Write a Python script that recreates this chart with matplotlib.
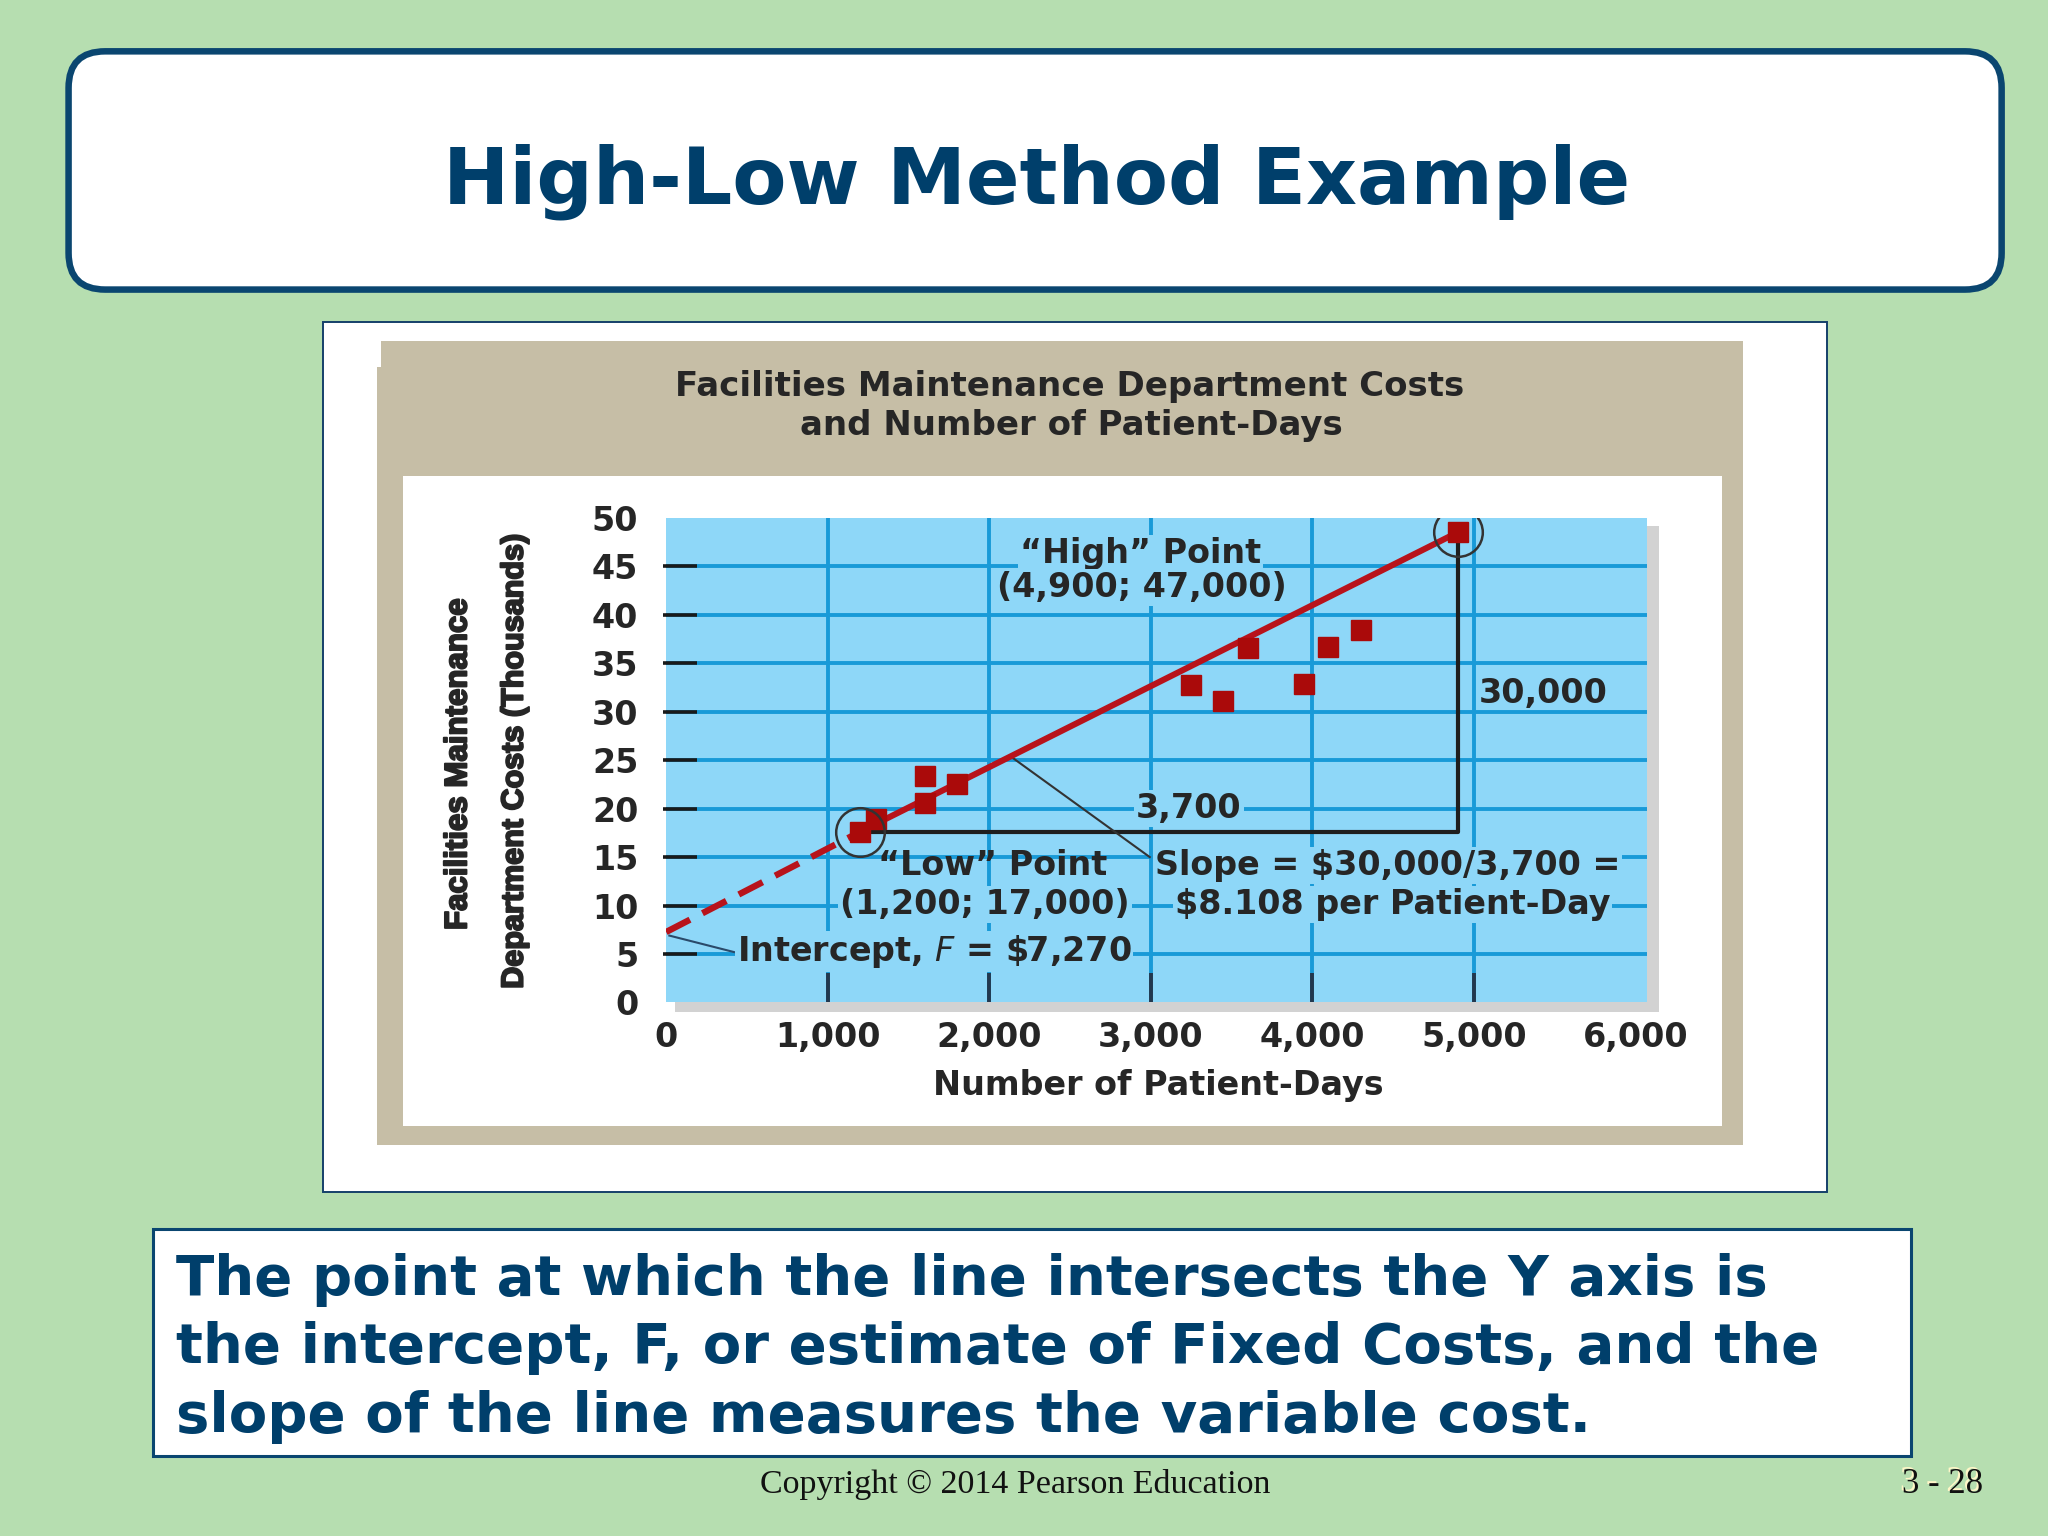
"""High-Low method slide: facilities maintenance costs vs patient-days."""

import matplotlib
matplotlib.use("Agg")
import matplotlib.pyplot as plt
import matplotlib.patheffects as pe
from matplotlib.patches import FancyBboxPatch, Rectangle
from matplotlib.ticker import FuncFormatter

# ── Data ─────────────────────────────────────────────────────────────────────
patient_days = [1200, 1300, 1600, 1600, 1800, 3250, 3450, 3600, 3950, 4100, 4300, 4900]
costs_k = [17.6, 18.9, 23.4, 20.6, 22.5, 32.8, 31.1, 36.6, 32.9, 36.7, 38.4, 48.5]

high_low_x = [1200, 4900]
high_low_y = [17.6, 48.5]

intercept_x = [0, 1200]
intercept_y = [7.27, 17.6]

x_ticks = [0, 1000, 2000, 3000, 4000, 5000, 6000]
y_ticks = [0, 5, 10, 15, 20, 25, 30, 35, 40, 45, 50]
grid_x = [1000, 2000, 3000, 4000, 5000]
grid_y = [5, 10, 15, 20, 25, 30, 35, 40, 45]

# ── Style ────────────────────────────────────────────────────────────────────
GREEN = "#B6DEB0"
NAVY = "#0A4670"
NAVY_TEXT = "#003F6B"
TAN = "#C6BEA6"
SKY = "#8ED7F8"
GRID = "#189AD8"
RED = "#B8131B"
SQUARE = "#AA0A0A"
INK = "#262626"

W, H = 1568, 1176  # layout units (reference preview size)

fig = plt.figure(figsize=(20.48, 15.36), dpi=100, facecolor=GREEN)

# background layer in layout units
bg = fig.add_axes([0, 0, 1, 1])
bg.set_xlim(0, W)
bg.set_ylim(H, 0)
bg.axis("off")


def rect(x0, y0, x1, y1, **kw):
    bg.add_patch(Rectangle((x0, y0), x1 - x0, y1 - y0, **kw))


# title box
bg.add_patch(FancyBboxPatch((52.5, 39.3), 1480, 182.4,
                            boxstyle="round,pad=0,rounding_size=28",
                            facecolor="white", edgecolor=NAVY, lw=4.7))
bg.text(794, 155.7, "High-Low Method Example", ha="center", va="baseline",
        fontsize=57, fontweight="bold", color=NAVY_TEXT, family="DejaVu Sans")

# chart frame
rect(247, 246.5, 1399, 913, facecolor="white", edgecolor="#15406A", lw=1.4)
rect(291.5, 261, 1334.2, 876.6, facecolor=TAN, edgecolor="none")
rect(288.4, 280.7, 1334.2, 876.6, facecolor=TAN, edgecolor="none")
rect(308.8, 364.4, 1318.2, 861.9, facecolor="white", edgecolor="none")
rect(517, 403, 1270.4, 774.6, facecolor="#D2D2D2", edgecolor="none")

bg.text(819, 296, "Facilities Maintenance Department Costs", ha="center",
        va="center", fontsize=24.5, fontweight="bold", color=INK)
bg.text(820, 326, "and Number of Patient-Days", ha="center", va="center",
        fontsize=24.5, fontweight="bold", color=INK)

# y-axis title: narrow heavy face, thickened with a stroke
narrow = ["Liberation Sans", "DejaVu Sans"]
heavy = [pe.withStroke(linewidth=1.4, foreground=INK)]
bg.text(351, 585, "Facilities Maintenance", rotation=90, ha="center",
        va="center", fontsize=22.5, fontweight="bold", color=INK,
        family=narrow, path_effects=heavy)
bg.text(394, 583, "Department Costs (Thousands)", rotation=90, ha="center",
        va="center", fontsize=22, fontweight="bold", color=INK,
        family=narrow, path_effects=heavy)
bg.text(886.6, 838.6, "Number of Patient-Days", ha="center", va="baseline",
        fontsize=24, fontweight="bold", color=INK)

# bottom text box
rect(117.5, 940.7, 1463, 1114.7, facecolor="white", edgecolor=NAVY, lw=2.2)
body = ["The point at which the line intersects the Y axis is",
        "the intercept, F, or estimate of Fixed Costs, and the",
        "slope of the line measures the variable cost."]
for i, line in enumerate(body):
    bg.text(135, 991.5 + i * 52.3, line, ha="left", va="baseline",
            fontsize=40.5, fontweight="bold", color=NAVY_TEXT)

bg.text(777, 1143, "Copyright \u00a9 2014 Pearson Education", ha="center",
        va="baseline", fontsize=24.5, color="#111111", family="Liberation Serif")
bg.text(1485.5, 1141.5, "3 - 28", ha="center", va="baseline", fontsize=25,
        color="#FFF6C8", family="Liberation Serif")
bg.text(1487, 1143, "3 - 28", ha="center", va="baseline", fontsize=25,
        color="#111111", family="Liberation Serif")

# ── Plot area ────────────────────────────────────────────────────────────────
left, right, top, bottom = 510, 1260.7, 396.5, 767.5
ax = fig.add_axes([left / W, 1 - bottom / H, (right - left) / W, (bottom - top) / H])
ax.set_facecolor(SKY)
ax.set_xlim(0, 6070)
ax.set_ylim(0, 50)
for s in ax.spines.values():
    s.set_visible(False)

ax.set_xticks(x_ticks)
ax.set_yticks(y_ticks)
ax.xaxis.set_major_formatter(FuncFormatter(lambda v, p: f"{int(v):,}"))
ax.tick_params(length=0, labelsize=24, labelcolor=INK)
ax.tick_params(axis="y", pad=20)
ax.tick_params(axis="x", pad=13)
for lab in ax.get_xticklabels() + ax.get_yticklabels():
    lab.set_fontweight("bold")

# grid
ax.hlines(grid_y, 0, 6070, color=GRID, lw=2.8, zorder=1)
ax.vlines(grid_x, 0, 50, color=GRID, lw=2.8, zorder=1)
ax.hlines(grid_y, -20, 190, color="#1a1a1a", lw=2.6, zorder=2, clip_on=False)
ax.vlines(grid_x, 0, 3.0, color="#23384e", lw=2.8, zorder=2)

# line through the low and high points, dashed back to the intercept
ax.plot(intercept_x, intercept_y, color=RED, lw=4.6, dashes=[4.2, 2.2],
        solid_capstyle="butt", zorder=4)
ax.plot(high_low_x, high_low_y, color=RED, lw=4.4, zorder=4)

# right-angle triangle
ax.plot([high_low_x[0], high_low_x[1], high_low_x[1]],
        [high_low_y[0], high_low_y[0], high_low_y[1]],
        color="#1e1e1e", lw=3.0, zorder=3)

ax.plot(patient_days, costs_k, "s", color=SQUARE, markersize=14, zorder=5)
ax.plot(high_low_x, high_low_y, "o", markerfacecolor="none",
        markeredgecolor="#333333", markeredgewidth=1.8, markersize=35, zorder=6)

# leader lines
ax.plot([2140, 2994], [25.3, 15.0], color="#333333", lw=1.5, zorder=3)
ax.plot([20, 420], [6.9, 5.2], color="#2a4a6a", lw=1.5, zorder=3)

box = dict(facecolor=SKY, edgecolor="none", pad=1.5)
tkw = dict(fontsize=24, fontweight="bold", color=INK, zorder=7)
ax.text(2937, 46.3, "\u201cHigh\u201d Point", ha="center", va="center", bbox=box, **tkw)
ax.text(2945, 42.8, "(4,900; 47,000)", ha="center", va="center", bbox=box, **tkw)
ax.text(5032, 31.9, "30,000", ha="left", va="center", **tkw)
ax.text(3236, 20.0, "3,700", ha="center", va="center", bbox=box, **tkw)
ax.text(2023, 14.1, "\u201cLow\u201d Point", ha="center", va="center", **tkw)
ax.text(1974, 10.1, "(1,200; 17,000)", ha="center", va="center", bbox=box, **tkw)
ax.text(4466, 14.1, "Slope = $30,000/3,700 =", ha="center", va="center", bbox=box, **tkw)
ax.text(4498, 10.1, "$8.108 per Patient-Day", ha="center", va="center", bbox=box, **tkw)
ax.text(437, 5.24, "Intercept, $\\mathit{F}$ = \\$7,270",
        ha="left", va="center", bbox=box, **tkw)

fig.savefig("out.png", dpi=100, facecolor=GREEN)
